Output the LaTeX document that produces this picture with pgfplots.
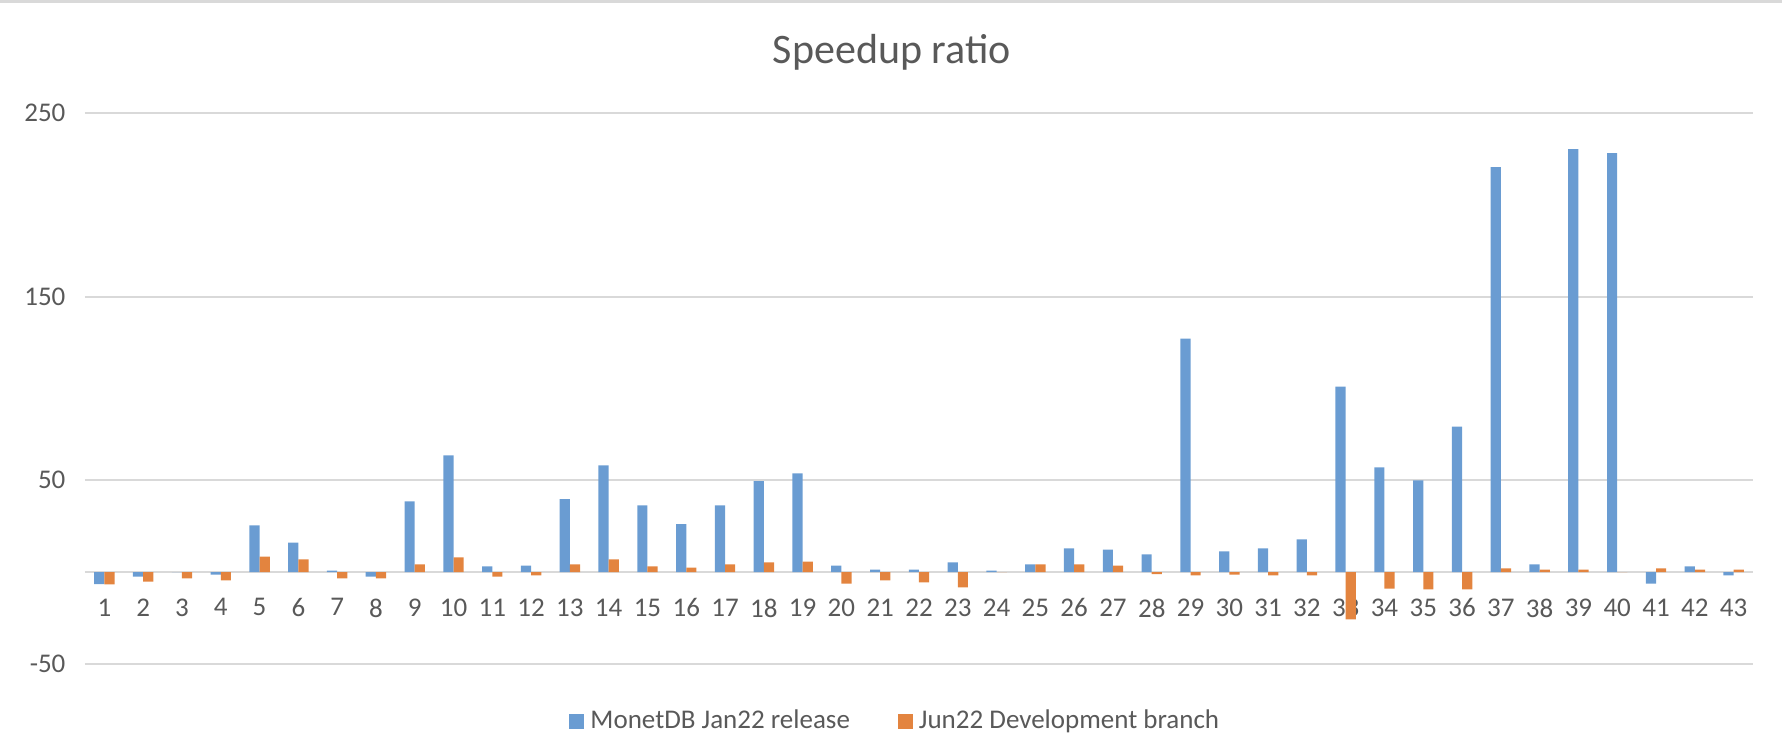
\documentclass[border=0pt]{standalone}
\usepackage{fontspec}
\setmainfont{Carlito}
\usepackage{pgfplots}
\usepackage{pgfplotstable}
\pgfplotsset{compat=1.18}
\definecolor{sblue}{HTML}{6A9CD2}
\definecolor{sorange}{HTML}{E3843F}
\definecolor{txt}{HTML}{595959}
\definecolor{grd}{HTML}{D9D9D9}
\pgfplotsset{sqlegend/.style={legend image code/.code={\fill[##1] (0pt,-2.5pt) rectangle (5pt,2.5pt);}}}

\pgfplotstableread{
x a b
1 -6.5 -6.7
2 -2.4 -5.1
3 0 -3.4
4 -1.3 -4.5
5 25.5 8.5
6 16.1 6.9
7 0.9 -3.4
8 -2.4 -3.4
9 38.6 4.2
10 63.6 8.0
11 3.1 -2.4
12 3.6 -1.8
13 39.7 4.2
14 58.2 6.9
15 36.4 3.1
16 26.1 2.5
17 36.4 4.2
18 49.5 5.3
19 53.8 5.8
20 3.6 -6.2
21 1.4 -4.5
22 1.4 -5.6
23 5.3 -8.3
24 0.9 0
25 4.2 4.2
26 12.9 4.2
27 12.3 3.6
28 9.7 -1.1
29 127.2 -1.8
30 11.3 -1.3
31 12.9 -1.8
32 17.8 -1.8
33 101.0 -25.7
34 57.1 -8.9
35 50.0 -9.4
36 79.3 -9.4
37 220.5 2.0
38 4.2 1.4
39 230.3 1.4
40 228.1 0
41 -6.2 2.0
42 3.1 1.4
43 -1.8 1.4
}\data

\begin{document}
\begin{tikzpicture}
\useasboundingbox (0,0) rectangle (594pt,249.33pt);
\fill[grd] (0,248.33pt) rectangle (594pt,249.33pt);
\node[anchor=base, font=\fontsize{14}{17}\selectfont, text=txt] at (297.3pt,228.3pt) {Speedup ratio};
\begin{axis}[
  at={(28.33pt,28pt)}, anchor=south west,
  scale only axis, width=556pt, height=183.67pt,
  ymin=-50, ymax=250, xmin=0.5, xmax=43.5,
  ytick={-50,50,150,250}, xtick={1,...,43},
  ymajorgrids, grid style={grd, line width=0.67pt},
  axis x line*=middle, axis y line*=left,
  x axis line style={grd, line width=0.67pt, -},
  y axis line style={draw=none},
  major tick length=0pt,
  ybar=0pt, bar width=3.4pt,
  tick label style={font=\fontsize{9}{11}\selectfont, text=txt},
  /pgf/number format/assume math mode=true,
  yticklabel style={xshift=-3pt},
  xticklabel style={yshift=-5.3pt},
  legend style={at={(0.487,-0.105)}, anchor=center, draw=none, fill=none,
    legend columns=2, font=\fontsize{9}{11}\selectfont, text=txt,
    /tikz/every even column/.append style={column sep=14pt}},
  legend cell align=left,
]
\addplot[fill=sblue, draw=none, sqlegend] table[x=x, y=a] {\data};
\addlegendentry{MonetDB Jan22 release}
\addplot[fill=sorange, draw=none, sqlegend] table[x=x, y=b] {\data};
\addlegendentry{Jun22 Development branch}
\end{axis}
\end{tikzpicture}
\end{document}
